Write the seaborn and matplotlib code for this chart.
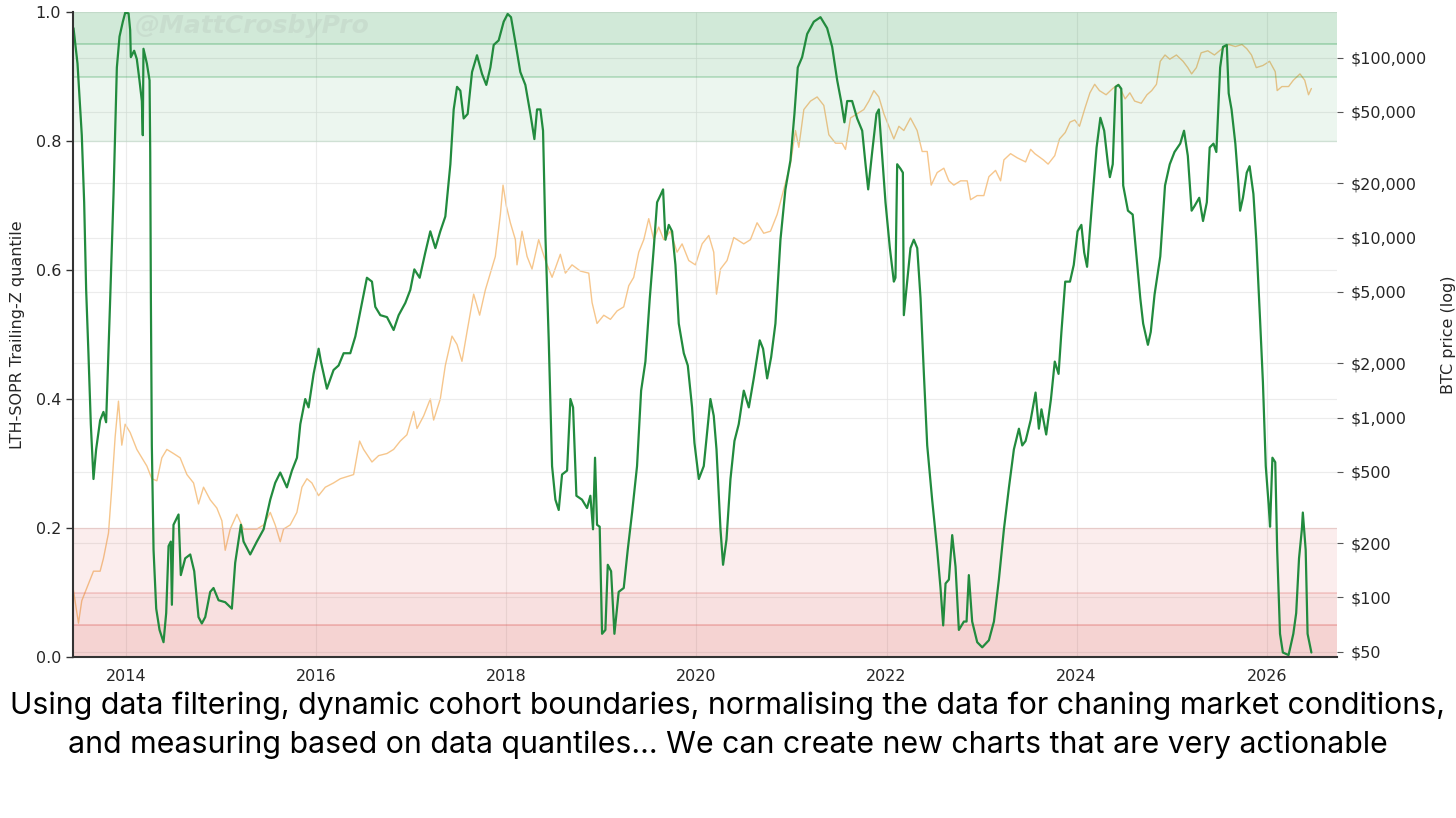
import pandas as pd
import seaborn as sns
import matplotlib.pyplot as plt
from matplotlib.ticker import FixedLocator, FuncFormatter, NullLocator

# LTH-SOPR trailing-z quantile
green_year = [
    2013.446, 2013.488, 2013.533, 2013.558, 2013.579, 2013.603, 2013.628, 2013.656, 2013.684, 2013.726,
    2013.761, 2013.789, 2013.832, 2013.867, 2013.902, 2013.930, 2013.965, 2013.990, 2014.025, 2014.042,
    2014.049, 2014.084, 2014.112, 2014.140, 2014.165, 2014.175, 2014.182, 2014.218, 2014.246, 2014.253,
    2014.260, 2014.270, 2014.288, 2014.316, 2014.351, 2014.393, 2014.421, 2014.446, 2014.470, 2014.481,
    2014.498, 2014.551, 2014.575, 2014.621, 2014.674, 2014.716, 2014.761, 2014.796, 2014.832, 2014.884,
    2014.919, 2014.972, 2015.042, 2015.112, 2015.147, 2015.207, 2015.235, 2015.305, 2015.375, 2015.446,
    2015.516, 2015.568, 2015.621, 2015.691, 2015.744, 2015.797, 2015.832, 2015.884, 2015.919, 2015.972,
    2016.025, 2016.049, 2016.112, 2016.182, 2016.235, 2016.288, 2016.358, 2016.411, 2016.481, 2016.533,
    2016.586, 2016.621, 2016.674, 2016.744, 2016.814, 2016.867, 2016.937, 2016.989, 2017.032, 2017.088,
    2017.147, 2017.200, 2017.253, 2017.305, 2017.358, 2017.411, 2017.446, 2017.481, 2017.516, 2017.551,
    2017.593, 2017.639, 2017.691, 2017.744, 2017.789, 2017.832, 2017.867, 2017.919, 2017.972, 2018.014,
    2018.049, 2018.095, 2018.147, 2018.200, 2018.253, 2018.295, 2018.323, 2018.358, 2018.386, 2018.411,
    2018.446, 2018.481, 2018.516, 2018.551, 2018.586, 2018.639, 2018.674, 2018.702, 2018.737, 2018.796,
    2018.849, 2018.884, 2018.912, 2018.933, 2018.954, 2018.982, 2019.007, 2019.042, 2019.067, 2019.102,
    2019.137, 2019.182, 2019.235, 2019.277, 2019.323, 2019.375, 2019.418, 2019.463, 2019.509, 2019.551,
    2019.586, 2019.628, 2019.649, 2019.674, 2019.709, 2019.744, 2019.779, 2019.814, 2019.867, 2019.909,
    2019.954, 2019.979, 2020.025, 2020.077, 2020.147, 2020.182, 2020.211, 2020.253, 2020.280, 2020.316,
    2020.358, 2020.400, 2020.445, 2020.498, 2020.551, 2020.603, 2020.666, 2020.701, 2020.744, 2020.786,
    2020.831, 2020.884, 2020.936, 2020.989, 2021.031, 2021.066, 2021.112, 2021.165, 2021.235, 2021.305,
    2021.375, 2021.428, 2021.481, 2021.522, 2021.557, 2021.586, 2021.638, 2021.691, 2021.744, 2021.779,
    2021.807, 2021.849, 2021.894, 2021.919, 2021.954, 2021.989, 2022.035, 2022.077, 2022.094, 2022.112,
    2022.147, 2022.172, 2022.182, 2022.217, 2022.252, 2022.287, 2022.323, 2022.358, 2022.393, 2022.428,
    2022.480, 2022.533, 2022.568, 2022.596, 2022.621, 2022.656, 2022.691, 2022.726, 2022.761, 2022.814,
    2022.842, 2022.866, 2022.901, 2022.954, 2023.007, 2023.077, 2023.130, 2023.182, 2023.235, 2023.288,
    2023.340, 2023.393, 2023.428, 2023.463, 2023.516, 2023.568, 2023.603, 2023.630, 2023.680, 2023.730,
    2023.770, 2023.810, 2023.840, 2023.880, 2023.930, 2023.970, 2024.010, 2024.050, 2024.080, 2024.110,
    2024.160, 2024.210, 2024.250, 2024.290, 2024.330, 2024.350, 2024.380, 2024.410, 2024.440, 2024.470,
    2024.490, 2024.540, 2024.590, 2024.630, 2024.670, 2024.700, 2024.750, 2024.780, 2024.820, 2024.880,
    2024.930, 2024.980, 2025.030, 2025.090, 2025.130, 2025.170, 2025.210, 2025.240, 2025.290, 2025.330,
    2025.370, 2025.400, 2025.440, 2025.470, 2025.510, 2025.540, 2025.580, 2025.600, 2025.630, 2025.670,
    2025.700, 2025.720, 2025.750, 2025.790, 2025.820, 2025.860, 2025.890, 2025.930, 2025.960, 2025.990,
    2026.020, 2026.035, 2026.060, 2026.090, 2026.110, 2026.140, 2026.170, 2026.230, 2026.280, 2026.310,
    2026.340, 2026.370, 2026.380, 2026.410, 2026.430, 2026.470,
]
green_val = [
    0.975, 0.920, 0.809, 0.705, 0.569, 0.471, 0.361, 0.276, 0.322, 0.367,
    0.380, 0.364, 0.556, 0.718, 0.914, 0.962, 0.985, 0.999, 0.998, 0.972,
    0.930, 0.940, 0.927, 0.894, 0.862, 0.809, 0.943, 0.920, 0.894, 0.783,
    0.556, 0.328, 0.166, 0.075, 0.042, 0.023, 0.068, 0.172, 0.179, 0.081,
    0.205, 0.221, 0.127, 0.153, 0.159, 0.133, 0.062, 0.052, 0.062, 0.101,
    0.107, 0.088, 0.085, 0.075, 0.146, 0.205, 0.179, 0.159, 0.179, 0.198,
    0.244, 0.270, 0.286, 0.263, 0.289, 0.309, 0.361, 0.400, 0.387, 0.439,
    0.478, 0.458, 0.416, 0.445, 0.452, 0.471, 0.471, 0.497, 0.549, 0.588,
    0.582, 0.543, 0.530, 0.527, 0.507, 0.530, 0.549, 0.569, 0.601, 0.588,
    0.627, 0.660, 0.634, 0.660, 0.683, 0.764, 0.849, 0.884, 0.878, 0.835,
    0.842, 0.907, 0.933, 0.904, 0.887, 0.914, 0.949, 0.956, 0.985, 0.997,
    0.992, 0.953, 0.907, 0.887, 0.842, 0.803, 0.849, 0.849, 0.816, 0.653,
    0.491, 0.296, 0.244, 0.228, 0.283, 0.289, 0.400, 0.387, 0.250, 0.244,
    0.231, 0.250, 0.198, 0.309, 0.205, 0.202, 0.036, 0.042, 0.143, 0.133,
    0.036, 0.101, 0.107, 0.166, 0.224, 0.296, 0.413, 0.458, 0.556, 0.634,
    0.705, 0.718, 0.725, 0.647, 0.670, 0.660, 0.608, 0.517, 0.471, 0.452,
    0.387, 0.332, 0.276, 0.296, 0.400, 0.374, 0.322, 0.198, 0.143, 0.182,
    0.276, 0.335, 0.361, 0.413, 0.387, 0.432, 0.491, 0.478, 0.432, 0.465,
    0.517, 0.647, 0.725, 0.770, 0.842, 0.914, 0.930, 0.966, 0.985, 0.992,
    0.975, 0.946, 0.894, 0.862, 0.829, 0.862, 0.862, 0.835, 0.816, 0.764,
    0.725, 0.783, 0.842, 0.849, 0.777, 0.705, 0.634, 0.582, 0.588, 0.764,
    0.757, 0.751, 0.530, 0.582, 0.634, 0.647, 0.634, 0.556, 0.439, 0.328,
    0.244, 0.166, 0.107, 0.049, 0.114, 0.120, 0.189, 0.140, 0.042, 0.055,
    0.055, 0.127, 0.055, 0.023, 0.015, 0.026, 0.055, 0.120, 0.198, 0.263,
    0.322, 0.354, 0.328, 0.335, 0.367, 0.410, 0.354, 0.384, 0.345, 0.400,
    0.458, 0.439, 0.504, 0.582, 0.582, 0.608, 0.660, 0.670, 0.627, 0.605,
    0.699, 0.790, 0.836, 0.816, 0.764, 0.744, 0.764, 0.884, 0.887, 0.881,
    0.731, 0.692, 0.686, 0.621, 0.556, 0.517, 0.484, 0.504, 0.562, 0.621,
    0.731, 0.764, 0.783, 0.796, 0.816, 0.777, 0.692, 0.699, 0.712, 0.676,
    0.705, 0.790, 0.796, 0.783, 0.914, 0.946, 0.949, 0.874, 0.849, 0.796,
    0.738, 0.692, 0.712, 0.751, 0.761, 0.718, 0.647, 0.523, 0.426, 0.296,
    0.237, 0.202, 0.309, 0.302, 0.166, 0.036, 0.007, 0.003, 0.036, 0.068,
    0.153, 0.198, 0.224, 0.166, 0.036, 0.007,
]

# BTC price in USD (log axis)
price_year = [
    2013.445, 2013.498, 2013.533, 2013.586, 2013.656, 2013.726, 2013.761, 2013.814, 2013.849, 2013.884,
    2013.919, 2013.954, 2013.989, 2014.042, 2014.112, 2014.165, 2014.218, 2014.270, 2014.323, 2014.375,
    2014.428, 2014.498, 2014.568, 2014.639, 2014.709, 2014.761, 2014.814, 2014.884, 2014.954, 2015.007,
    2015.042, 2015.095, 2015.165, 2015.235, 2015.305, 2015.375, 2015.446, 2015.516, 2015.568, 2015.621,
    2015.656, 2015.726, 2015.796, 2015.849, 2015.902, 2015.954, 2016.024, 2016.095, 2016.182, 2016.253,
    2016.323, 2016.393, 2016.456, 2016.498, 2016.586, 2016.656, 2016.744, 2016.814, 2016.884, 2016.954,
    2017.025, 2017.060, 2017.130, 2017.200, 2017.235, 2017.305, 2017.358, 2017.428, 2017.481, 2017.533,
    2017.586, 2017.656, 2017.719, 2017.779, 2017.832, 2017.884, 2017.937, 2017.965, 2018.000, 2018.042,
    2018.095, 2018.112, 2018.165, 2018.218, 2018.270, 2018.340, 2018.411, 2018.481, 2018.568, 2018.621,
    2018.691, 2018.779, 2018.867, 2018.902, 2018.954, 2019.025, 2019.095, 2019.165, 2019.235, 2019.288,
    2019.340, 2019.393, 2019.446, 2019.498, 2019.551, 2019.603, 2019.656, 2019.726, 2019.796, 2019.849,
    2019.919, 2019.989, 2020.060, 2020.130, 2020.182, 2020.211, 2020.253, 2020.322, 2020.393, 2020.498,
    2020.568, 2020.638, 2020.708, 2020.779, 2020.849, 2020.919, 2020.989, 2021.042, 2021.077, 2021.130,
    2021.200, 2021.270, 2021.340, 2021.393, 2021.463, 2021.533, 2021.568, 2021.621, 2021.691, 2021.761,
    2021.814, 2021.867, 2021.919, 2021.972, 2022.024, 2022.077, 2022.130, 2022.182, 2022.252, 2022.322,
    2022.375, 2022.428, 2022.470, 2022.533, 2022.603, 2022.656, 2022.708, 2022.779, 2022.849, 2022.884,
    2022.954, 2023.024, 2023.077, 2023.147, 2023.200, 2023.235, 2023.305, 2023.375, 2023.463, 2023.516,
    2023.560, 2023.650, 2023.700, 2023.770, 2023.820, 2023.880, 2023.930, 2023.980, 2024.030, 2024.090,
    2024.140, 2024.190, 2024.240, 2024.310, 2024.380, 2024.440, 2024.510, 2024.560, 2024.610, 2024.680,
    2024.740, 2024.790, 2024.840, 2024.880, 2024.930, 2024.980, 2025.050, 2025.120, 2025.170, 2025.210,
    2025.260, 2025.310, 2025.380, 2025.450, 2025.530, 2025.600, 2025.670, 2025.740, 2025.790, 2025.840,
    2025.890, 2025.960, 2026.030, 2026.090, 2026.110, 2026.160, 2026.230, 2026.280, 2026.350, 2026.400,
    2026.440, 2026.470,
]
price_usd = [
    110, 72, 96, 113, 140, 140, 165, 228, 410, 781,
    1233, 702, 918, 825, 665, 597, 537, 457, 445, 597,
    665, 631, 597, 482, 433, 331, 410, 349, 314, 267,
    183, 240, 290, 240, 240, 240, 253, 297, 253, 204,
    240, 253, 297, 410, 457, 433, 368, 410, 433, 457,
    469, 482, 740, 665, 566, 614, 631, 665, 740, 802,
    1079, 869, 1021, 1268, 968, 1268, 1947, 2833, 2545, 2052,
    2990, 4845, 3704, 5114, 6339, 7850, 13430, 19550, 14960, 12080,
    9730, 7050, 10840, 7850, 6680, 9730, 7450, 6010, 8070, 6340,
    7050, 6510, 6340, 4350, 3330, 3700, 3510, 3910, 4120, 5400,
    6010, 8290, 9730, 12730, 9730, 11430, 9730, 10840, 8290, 9220,
    7450, 7050, 9220, 10270, 8290, 4845, 6680, 7450, 10000, 9220,
    9730, 12080, 10560, 10840, 13430, 18530, 25580, 39290, 31700, 51400,
    57270, 60400, 54200, 37240, 33420, 33420, 30870, 46150, 48700, 51400,
    57270, 65500, 60400, 48700, 41500, 35300, 41500, 39300, 46150, 39300,
    30060, 30060, 19550, 22960, 24270, 20650, 19550, 20650, 20650, 16220,
    17100, 17100, 21780, 23600, 20650, 27000, 29240, 27730, 26300, 30900,
    29240, 27000, 25580, 28500, 35300, 38300, 43750, 44960, 41500, 52800,
    63700, 71000, 65500, 62100, 67300, 71000, 58900, 63700, 57300, 55700,
    62100, 65500, 71000, 95300, 103300, 97900, 103300, 95300, 87900, 81100,
    87900, 106200, 109000, 103300, 112000, 118100, 115100, 118100, 112000, 103300,
    87900, 90300, 95300, 83400, 65500, 69000, 69000, 74800, 81100, 74800,
    62100, 67300,
]

year_ticks = [2014, 2016, 2018, 2020, 2022, 2024, 2026]
quantile_ticks = [0.0, 0.2, 0.4, 0.6, 0.8, 1.0]
price_ticks = [50, 100, 200, 500, 1000, 2000, 5000, 10000, 20000, 50000, 100000]

df_q = pd.DataFrame({'year': green_year, 'quantile': green_val})
df_p = pd.DataFrame({'year': price_year, 'price': price_usd})

sns.set_style('white')
plt.rcParams['font.family'] = ['DejaVu Sans']

fig = plt.figure(figsize=(14.56, 8.18), dpi=100)
ax = fig.add_axes([0.0501, 0.1968, 0.8682, 0.7885])
ax2 = ax.twinx()

# price underneath
sns.lineplot(data=df_p, x='year', y='price', ax=ax2, color='#f4b870', alpha=0.8,
             linewidth=1.0, estimator=None, sort=False)
ax2.set_yscale('log')
ax2.set_ylim(46.7, 179000)
ax2.yaxis.set_major_locator(FixedLocator(price_ticks))
ax2.yaxis.set_minor_locator(NullLocator())
ax2.yaxis.set_major_formatter(FuncFormatter(lambda v, p: '${:,.0f}'.format(v)))
ax2.tick_params(axis='y', labelsize=11.5, length=4, color='#555555', pad=6)
ax2.grid(axis='y', color='#ececec', linewidth=0.8)
ax2.set_ylabel('BTC price (log)', fontsize=11.5, labelpad=10)
for s in ax2.spines.values():
    s.set_visible(False)

ax.set_zorder(ax2.get_zorder() + 1)
ax.patch.set_visible(False)

# zones
green = '#2e9e4f'
red = '#d9534f'
ax.axhspan(0.8, 1.0, color=green, alpha=0.085, lw=0)
ax.axhspan(0.9, 1.0, color=green, alpha=0.07, lw=0)
ax.axhspan(0.95, 1.0, color=green, alpha=0.07, lw=0)
ax.axhline(0.8, color=green, alpha=0.15, lw=1.0)
ax.axhline(0.9, color=green, alpha=0.3, lw=1.2)
ax.axhline(0.95, color=green, alpha=0.35, lw=1.2)
ax.axhspan(0.0, 0.2, color=red, alpha=0.1, lw=0)
ax.axhspan(0.0, 0.1, color=red, alpha=0.08, lw=0)
ax.axhspan(0.0, 0.05, color=red, alpha=0.09, lw=0)
ax.axhline(0.2, color=red, alpha=0.12, lw=1.0)
ax.axhline(0.1, color=red, alpha=0.25, lw=1.2)
ax.axhline(0.05, color=red, alpha=0.35, lw=1.2)

sns.lineplot(data=df_q, x='year', y='quantile', ax=ax, color='#228b3e',
             linewidth=1.6, estimator=None, sort=False)

ax.set_xlim(2013.44, 2026.74)
ax.set_ylim(0, 1)
ax.set_xticks(year_ticks)
ax.set_xticklabels([str(y) for y in year_ticks])
ax.set_yticks(quantile_ticks)
ax.set_yticklabels(['{:.1f}'.format(v) for v in quantile_ticks])
ax.tick_params(axis='both', labelsize=11.5, length=5, width=1, color='#333333')
ax.grid(True, color='#e4e4e4', linewidth=0.8, alpha=0.7)
ax.set_xlabel('')
ax.set_ylabel('LTH-SOPR Trailing-Z quantile', fontsize=11.5, labelpad=8)
ax2.set_xlabel('')
for side in ['top', 'right']:
    ax.spines[side].set_visible(False)
for side in ['left', 'bottom']:
    ax.spines[side].set_color('#333333')
    ax.spines[side].set_linewidth(1.5)

# watermark
ax.text(0.142, 0.978, '@MattCrosbyPro', transform=ax.transAxes, ha='center', va='center',
        fontsize=18, fontweight='bold', fontstyle='italic', color='#9a9a9a', alpha=0.15)

caption_1 = 'Using data filtering, dynamic cohort boundaries, normalising the data for chaning market conditions,'
caption_2 = 'and measuring based on data quantiles... We can create new charts that are very actionable'
fig.text(0.5, 0.137, caption_1, ha='center', va='center', fontsize=21.8, color='black',
         family=['Inter', 'DejaVu Sans'])
fig.text(0.5, 0.089, caption_2, ha='center', va='center', fontsize=21.8, color='black',
         family=['Inter', 'DejaVu Sans'])

fig.savefig('out.png', dpi=100, facecolor='white')
